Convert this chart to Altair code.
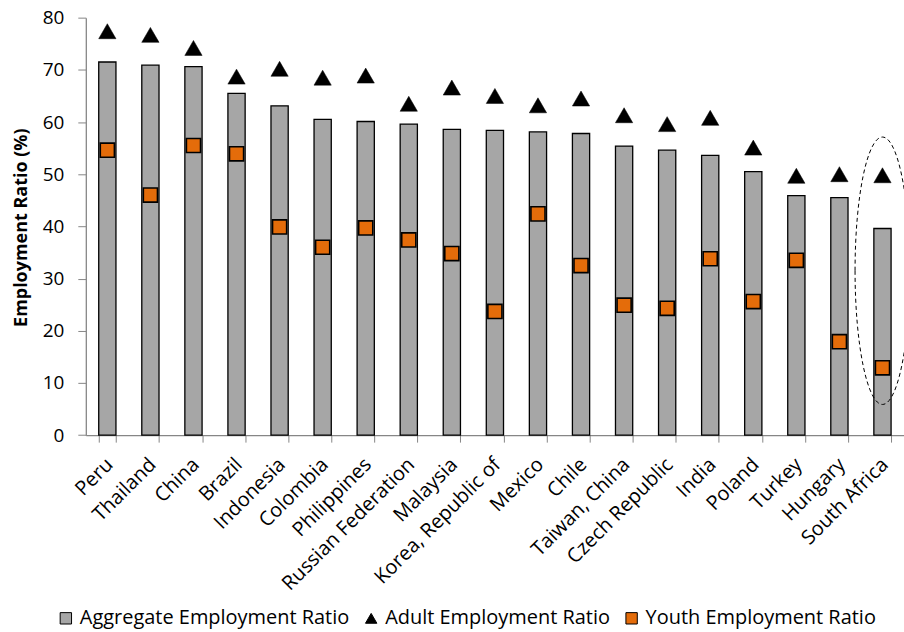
import altair as alt
import pandas as pd

# Employment ratios (%) by economy
countries = [
    "Peru", "Thailand", "China", "Brazil", "Indonesia", "Colombia",
    "Philippines", "Russian Federation", "Malaysia", "Korea, Republic of",
    "Mexico", "Chile", "Taiwan, China", "Czech Republic", "India", "Poland",
    "Turkey", "Hungary", "South Africa",
]
aggregate = [71.5, 70.9, 70.6, 65.5, 63.1, 60.5, 60.1, 59.6, 58.6, 58.4,
             58.1, 57.8, 55.4, 54.6, 53.6, 50.5, 45.9, 45.5, 39.6]
adult = [77.4, 76.7, 74.2, 68.7, 70.2, 68.5, 68.9, 63.5, 66.6, 65.0,
         63.2, 64.5, 61.3, 59.6, 60.8, 55.1, 49.7, 50.0, 49.8]
youth = [54.6, 46.0, 55.5, 53.9, 39.9, 36.0, 39.7, 37.4, 34.8, 23.7,
         42.4, 32.5, 24.9, 24.3, 33.8, 25.6, 33.5, 17.9, 12.9]

series_names = ["Aggregate Employment Ratio", "Adult Employment Ratio",
                "Youth Employment Ratio"]
series_colors = ["#A6A6A6", "#000000", "#E46C0A"]
series_shapes = ["square", "triangle-up", "square"]
series_outline = ["#000000", "#000000", "#000000"]

# Dashed ellipse highlighting one economy
highlight_country = ["South Africa"]
highlight_center = [31.5]

FONT = "Open Sans"

def frame(values, name):
    return pd.DataFrame({"country": countries, "value": values, "series": name})

agg_df = frame(aggregate, series_names[0])
adult_df = frame(adult, series_names[1])
youth_df = frame(youth, series_names[2])
ring_df = pd.DataFrame({"country": highlight_country, "value": highlight_center})

legend = alt.Legend(
    title=None, orient="none", direction="horizontal",
    legendX=-30, legendY=592,
    labelFont=FONT, labelFontSize=20, labelColor="black", labelLimit=0,
    symbolSize=130, symbolStrokeColor="black", symbolStrokeWidth=1,
    symbolOpacity=1, labelOffset=4, columnPadding=11,
)

x_enc = alt.X(
    "country:N", sort=countries, title=None,
    scale=alt.Scale(paddingInner=0.6, paddingOuter=0.3),
    axis=alt.Axis(
        labelAngle=-45, labelAlign="right", labelBaseline="top",
        labelFont=FONT, labelFontSize=20, labelColor="black",
        labelPadding=12, labelOffset=-5, labelLimit=0,
        tickBand="extent", tickSize=7, tickColor="#868686",
        domainColor="#868686", domainWidth=1.3, labelOverlap=False,
    ),
)
y_enc = alt.Y(
    "value:Q", title="Employment Ratio (%)",
    scale=alt.Scale(domain=[0, 80], nice=False),
    axis=alt.Axis(
        values=list(range(0, 81, 10)), grid=False,
        labelFont=FONT, labelFontSize=19, labelColor="black",
        labelPadding=14, tickSize=8, tickColor="#868686",
        domainColor="#868686", domainWidth=1.3,
        titleFont=FONT, titleFontSize=18, titleFontWeight="bold",
        titleColor="black", titleAngle=-90, titleX=-64, titleY=210,
        titleAlign="center", titleBaseline="middle",
    ),
)
color_enc = alt.Color(
    "series:N", scale=alt.Scale(domain=series_names, range=series_colors),
    legend=legend,
)
shape_enc = alt.Shape(
    "series:N", scale=alt.Scale(domain=series_names, range=series_shapes),
    legend=legend,
)
stroke_enc = alt.Stroke(
    "series:N", scale=alt.Scale(domain=series_names, range=series_outline),
    legend=legend,
)

bars = alt.Chart(agg_df).mark_bar(strokeWidth=1.3).encode(
    x=x_enc, y=y_enc, color=color_enc, stroke=stroke_enc
)
adult_pts = alt.Chart(adult_df).mark_point(
    filled=True, size=300, opacity=1, strokeWidth=0.5
).encode(x=x_enc, y=y_enc, color=color_enc, shape=shape_enc, stroke=stroke_enc)
youth_pts = alt.Chart(youth_df).mark_point(
    filled=True, size=200, opacity=1, strokeWidth=1.6
).encode(x=x_enc, y=y_enc, color=color_enc, shape=shape_enc, stroke=stroke_enc)

ellipse_path = "M -0.205 0 A 0.205 1 0 1 1 0.205 0 A 0.205 1 0 1 1 -0.205 0 Z"
ring = alt.Chart(ring_df).mark_point(
    shape=ellipse_path, size=71824, filled=False, stroke="black",
    strokeWidth=1, strokeDash=[4, 3], opacity=1,
).encode(x=alt.X("country:N", sort=countries), y=alt.Y("value:Q"))

chart = alt.layer(bars, adult_pts, youth_pts, ring).properties(
    width=820, height=418.4,
    autosize=alt.AutoSizeParams(type="none"),
    padding={"left": 86, "top": 17, "right": 0, "bottom": 197},
    background="white",
).configure_view(stroke=None)

chart.save("out.html", embed_options={"renderer": "svg", "actions": False})
